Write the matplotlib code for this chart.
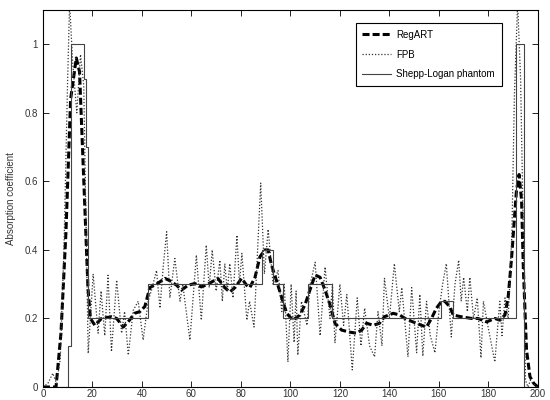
import matplotlib
matplotlib.use("Agg")
import matplotlib.pyplot as plt

# Shepp-Logan phantom profile (step breakpoints)
phantom_x = [0, 10.1, 11.2, 16.8, 17.4, 18.1, 42.5, 88.5, 93, 97, 107, 116.7, 161, 165.5, 191.3, 194.4, 200]
phantom_y = [0, 0.12, 1.0, 0.9, 0.7, 0.2, 0.3, 0.4, 0.3, 0.2, 0.3, 0.2, 0.25, 0.2, 1.0, 0.0, 0.0]

# RegART reconstruction
regart_x = [0, 5.3, 7.3, 9.3, 11.2, 13.5, 14.8, 16.8, 18.2, 19.2, 21, 23.7, 27.7, 29.8, 32.5,
            35, 37, 39.2, 41.2, 43.2, 45.9, 49.3, 51.3, 54, 56, 58.7, 61.4, 64, 66.7, 70.7,
            73.5, 75.5, 77.6, 80.3, 82.3, 83.6, 85.7, 87.7, 89.7, 91, 92.4, 94.4, 96.4, 98.5,
            101, 103.8, 105.9, 107.9, 110, 112, 114, 116, 118, 120.7, 124, 126.7, 128.8, 130.8,
            133.5, 136, 138, 141.5, 144.2, 146.3, 149.5, 153, 155, 157, 159, 161, 162.4, 164.4,
            165.8, 169, 173.2, 175.8, 179.3, 182.6, 184.6, 186.7, 188, 189.4, 190.3, 191.3, 192.4,
            193.4, 194.1, 195.4, 196.8, 198.4, 200]
regart_y = [0, 0, 0.157, 0.45, 0.84, 0.96, 0.92, 0.55, 0.29, 0.2, 0.18, 0.2, 0.205, 0.2, 0.175,
            0.195, 0.215, 0.22, 0.235, 0.29, 0.3, 0.317, 0.31, 0.297, 0.283, 0.297, 0.302, 0.292,
            0.3, 0.317, 0.29, 0.277, 0.29, 0.317, 0.297, 0.29, 0.32, 0.38, 0.4, 0.4, 0.355, 0.31,
            0.263, 0.215, 0.195, 0.21, 0.24, 0.283, 0.327, 0.32, 0.283, 0.24, 0.186, 0.166, 0.16,
            0.157, 0.166, 0.186, 0.18, 0.186, 0.205, 0.215, 0.21, 0.2, 0.19, 0.18, 0.175, 0.2,
            0.23, 0.249, 0.25, 0.234, 0.21, 0.205, 0.2, 0.2, 0.19, 0.2, 0.195, 0.21, 0.263, 0.38,
            0.47, 0.57, 0.62, 0.545, 0.35, 0.108, 0.03, 0.01, 0.0]

# FPB reconstruction
fpb_x = [0, 2, 4, 5.5, 7, 8.5, 10, 10.8, 12, 13.7, 15.2, 16.5, 18.3, 20.3, 22.3, 23.5, 25, 26.3,
         27.7, 29.8, 31.8, 33, 34.5, 36.5, 38.5, 40.5, 42.5, 43.9, 45.9, 47.3, 48.6, 50, 51.3,
         53.3, 55.4, 56.5, 59.4, 62, 64, 66, 67.2, 68.4, 70, 71.5, 72.5, 73.5, 74.5, 75.5, 76.8,
         78.4, 79.4, 80.4, 82.4, 83.5, 85.3, 88, 89.5, 91, 93, 95, 96.5, 97.5, 99, 100.3, 101.5,
         102.3, 103, 104.5, 106.7, 108, 110, 112, 114, 116, 117, 118, 120, 121.5, 122.8, 125,
         127, 128.5, 130, 132, 134, 135.4, 137, 138, 140, 142, 144, 145, 147.5, 149, 151, 152.3,
         153.5, 155, 156.5, 158.4, 160, 161.5, 163, 165, 166.5, 168, 169, 170, 171.5, 172.5, 174,
         175.5, 177, 178, 180, 182.6, 184.6, 185.5, 186.7, 188, 189.5, 190.5, 191.8, 193, 194,
         195, 196, 197, 198, 200]
fpb_y = [0, 0.01, 0.04, 0.01, 0.08, 0.4, 0.9, 1.12, 0.95, 0.8, 0.97, 0.88, 0.098, 0.33, 0.157,
         0.28, 0.15, 0.326, 0.103, 0.312, 0.157, 0.22, 0.093, 0.224, 0.25, 0.137, 0.25, 0.283,
         0.34, 0.23, 0.35, 0.453, 0.26, 0.375, 0.25, 0.3, 0.137, 0.385, 0.195, 0.414, 0.29, 0.4,
         0.28, 0.37, 0.25, 0.36, 0.28, 0.36, 0.26, 0.443, 0.3, 0.39, 0.195, 0.25, 0.175, 0.595,
         0.33, 0.46, 0.3, 0.34, 0.22, 0.3, 0.073, 0.3, 0.13, 0.28, 0.093, 0.25, 0.18, 0.3, 0.364,
         0.15, 0.35, 0.2, 0.3, 0.128, 0.3, 0.18, 0.27, 0.05, 0.26, 0.12, 0.23, 0.12, 0.088, 0.22,
         0.12, 0.317, 0.2, 0.36, 0.22, 0.29, 0.088, 0.29, 0.1, 0.27, 0.09, 0.25, 0.15, 0.1, 0.22,
         0.3, 0.36, 0.146, 0.3, 0.37, 0.25, 0.32, 0.22, 0.32, 0.2, 0.26, 0.085, 0.25, 0.17, 0.073,
         0.25, 0.15, 0.26, 0.2, 0.45, 0.85, 1.12, 0.9, 0.5, 0.02, 0.0, 0.02, 0.01, 0.0]

x_ticks = [0, 20, 40, 60, 80, 100, 120, 140, 160, 180, 200]
y_ticks = [0, 0.2, 0.4, 0.6, 0.8, 1]
y_label = "Absorption coefficient"

plt.rcParams['font.family'] = ['Liberation Sans', 'DejaVu Sans']

fig = plt.figure(figsize=(5.5, 4), dpi=100)
ax = fig.add_axes([0.078, 0.0325, 0.9, 0.9425])

line1, = ax.plot(regart_x, regart_y, color="black", linewidth=2.2, label="RegART")
line1.set_dashes([2.3, 1.0])
ax.plot(fpb_x, fpb_y, color="#333333", linewidth=0.9, linestyle=(0, (1, 1.5)), label="FPB")
ax.plot(phantom_x, phantom_y, color="#444444", linewidth=0.8, drawstyle="steps-post",
        label="Shepp-Logan phantom")

ax.set_xlim(0, 200)
ax.set_ylim(0, 1.1)
ax.set_xticks(x_ticks)
ax.set_xticklabels([str(t) for t in x_ticks])
ax.set_yticks(y_ticks)
ax.set_yticklabels(["0", "0.2", "0.4", "0.6", "0.8", "1"])
ax.tick_params(direction="in", top=True, right=True, length=4, width=0.6,
               labelsize=7, labelcolor="#333333")
ax.tick_params(axis="x", pad=1.5)
for s in ax.spines.values():
    s.set_linewidth(0.8)
ax.set_ylabel(y_label, fontsize=7, color="#333333", labelpad=6)

leg = ax.legend(loc="upper right", bbox_to_anchor=(0.927, 0.9655), borderaxespad=0,
                fontsize=7, handlelength=3.0, labelspacing=1.0, fancybox=False,
                framealpha=1, edgecolor="black", borderpad=0.7, handletextpad=0.5)
leg.get_frame().set_linewidth(0.8)

fig.savefig("out.png", dpi=100)
